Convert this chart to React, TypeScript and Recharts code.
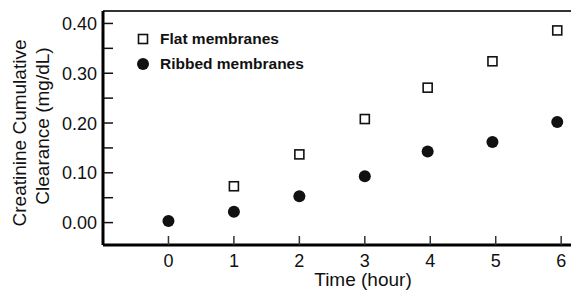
import React from "react";
import { ScatterChart, Scatter, XAxis, YAxis, Label } from "recharts";

const flatX = [1, 2, 3, 3.96, 4.95, 5.94];
const flatY = [0.073, 0.137, 0.208, 0.271, 0.324, 0.386];
const ribbedX = [0, 1, 2, 3, 3.96, 4.95, 5.94];
const ribbedY = [0.003, 0.022, 0.053, 0.093, 0.143, 0.162, 0.202];
const xTicks = [0, 1, 2, 3, 4, 5, 6];
const yTicks = [0, 0.05, 0.1, 0.15, 0.2, 0.25, 0.3, 0.35, 0.4];
const seriesNames = ["Flat membranes", "Ribbed membranes"];
const xDomain = [-1, 6.15];
const yDomain = [-0.045, 0.425];

const flatData = flatX.map((x, i) => ({ x, y: flatY[i] }));
const ribbedData = ribbedX.map((x, i) => ({ x, y: ribbedY[i] }));

const FONT = "'Liberation Sans', Arial, sans-serif";
const INK = "#111";

const SquareShape = (p: any) => (
  <rect x={p.cx - 4.5} y={p.cy - 4.5} width={9} height={9} fill="#fff" stroke={INK} strokeWidth={1.6} />
);
const CircleShape = (p: any) => <circle cx={p.cx} cy={p.cy} r={6} fill={INK} />;

const XTick = (p: any) => (
  <g>
    <line x1={p.x} y1={p.y} x2={p.x} y2={p.y - 9} stroke="#333" strokeWidth={1.5} />
    <text x={p.x} y={p.y + 22} textAnchor="middle" fontSize={18} fontFamily={FONT} fill={INK} stroke="none">
      {p.payload.value}
    </text>
  </g>
);

const YTick = (p: any) => {
  const v = p.payload.value;
  const major = Math.round(v * 100) % 10 === 0;
  return (
    <g>
      <line x1={p.x} y1={p.y} x2={p.x + 10} y2={p.y} stroke={INK} strokeWidth={1.5} />
      {major && (
        <text x={p.x - 6} y={p.y + 6.5} textAnchor="end" fontSize={18} fontFamily={FONT} fill={INK} stroke="none">
          {v.toFixed(2)}
        </text>
      )}
    </g>
  );
};

const YTitle = () => (
  <g fontFamily={FONT} fontSize={19} fill={INK} stroke="none">
    <text transform="translate(26,133) rotate(-90)" textAnchor="middle">Creatinine Cumulative</text>
    <text transform="translate(49,126) rotate(-90)" textAnchor="middle">Clearance (mg/dL)</text>
  </g>
);

const XTitle = () => (
  <text x={363} y={286} textAnchor="middle" fontSize={19} fontFamily={FONT} fill={INK} stroke="none">
    Time (hour)
  </text>
);

const LegendBox = () => (
  <div
    style={{
      position: "absolute",
      top: 26,
      left: 136,
      fontFamily: FONT,
      fontWeight: "bold",
      fontSize: 15.5,
      color: INK,
    }}
  >
    {seriesNames.map((n, i) => (
      <div key={n} style={{ display: "flex", alignItems: "center", height: 25 }}>
        <svg width={14} height={14} style={{ marginRight: 10 }}>
          {i === 0 ? (
            <rect x={2.5} y={2.5} width={9} height={9} fill="#fff" stroke={INK} strokeWidth={1.6} />
          ) : (
            <circle cx={7} cy={7} r={6} fill={INK} />
          )}
        </svg>
        <span>{n}</span>
      </div>
    ))}
  </div>
);

export default function App() {
  return (
    <div style={{ position: "relative", width: 571, height: 290 }}>
      <style>{`body{margin:0}`}</style>
      <ScatterChart width={571} height={290} margin={{ top: 10, right: 0, bottom: 0, left: 0 }}>
        <XAxis
          xAxisId="top"
          orientation="top"
          type="number"
          dataKey="x"
          domain={xDomain}
          allowDataOverflow
          height={1}
          tick={false}
          tickLine={false}
          stroke="#333"
          axisLine={{ stroke: "#333", strokeWidth: 2 }}
        />
        <XAxis
          type="number"
          dataKey="x"
          domain={xDomain}
          ticks={xTicks}
          allowDataOverflow
          height={45}
          tickSize={0}
          tickMargin={0}
          tick={<XTick />}
          stroke="#000"
          axisLine={{ stroke: "#000", strokeWidth: 3 }}
        >
          <Label content={() => <XTitle />} />
        </XAxis>
        <YAxis
          type="number"
          dataKey="y"
          domain={yDomain}
          ticks={yTicks}
          allowDataOverflow
          width={103}
          tickSize={0}
          tickMargin={0}
          tick={<YTick />}
          stroke="#000"
          axisLine={{ stroke: "#000", strokeWidth: 3 }}
        >
          <Label content={() => <YTitle />} />
        </YAxis>
        <Scatter name={seriesNames[0]} data={flatData} shape={SquareShape} isAnimationActive={false} />
        <Scatter name={seriesNames[1]} data={ribbedData} shape={CircleShape} isAnimationActive={false} />
      </ScatterChart>
      <LegendBox />
    </div>
  );
}
